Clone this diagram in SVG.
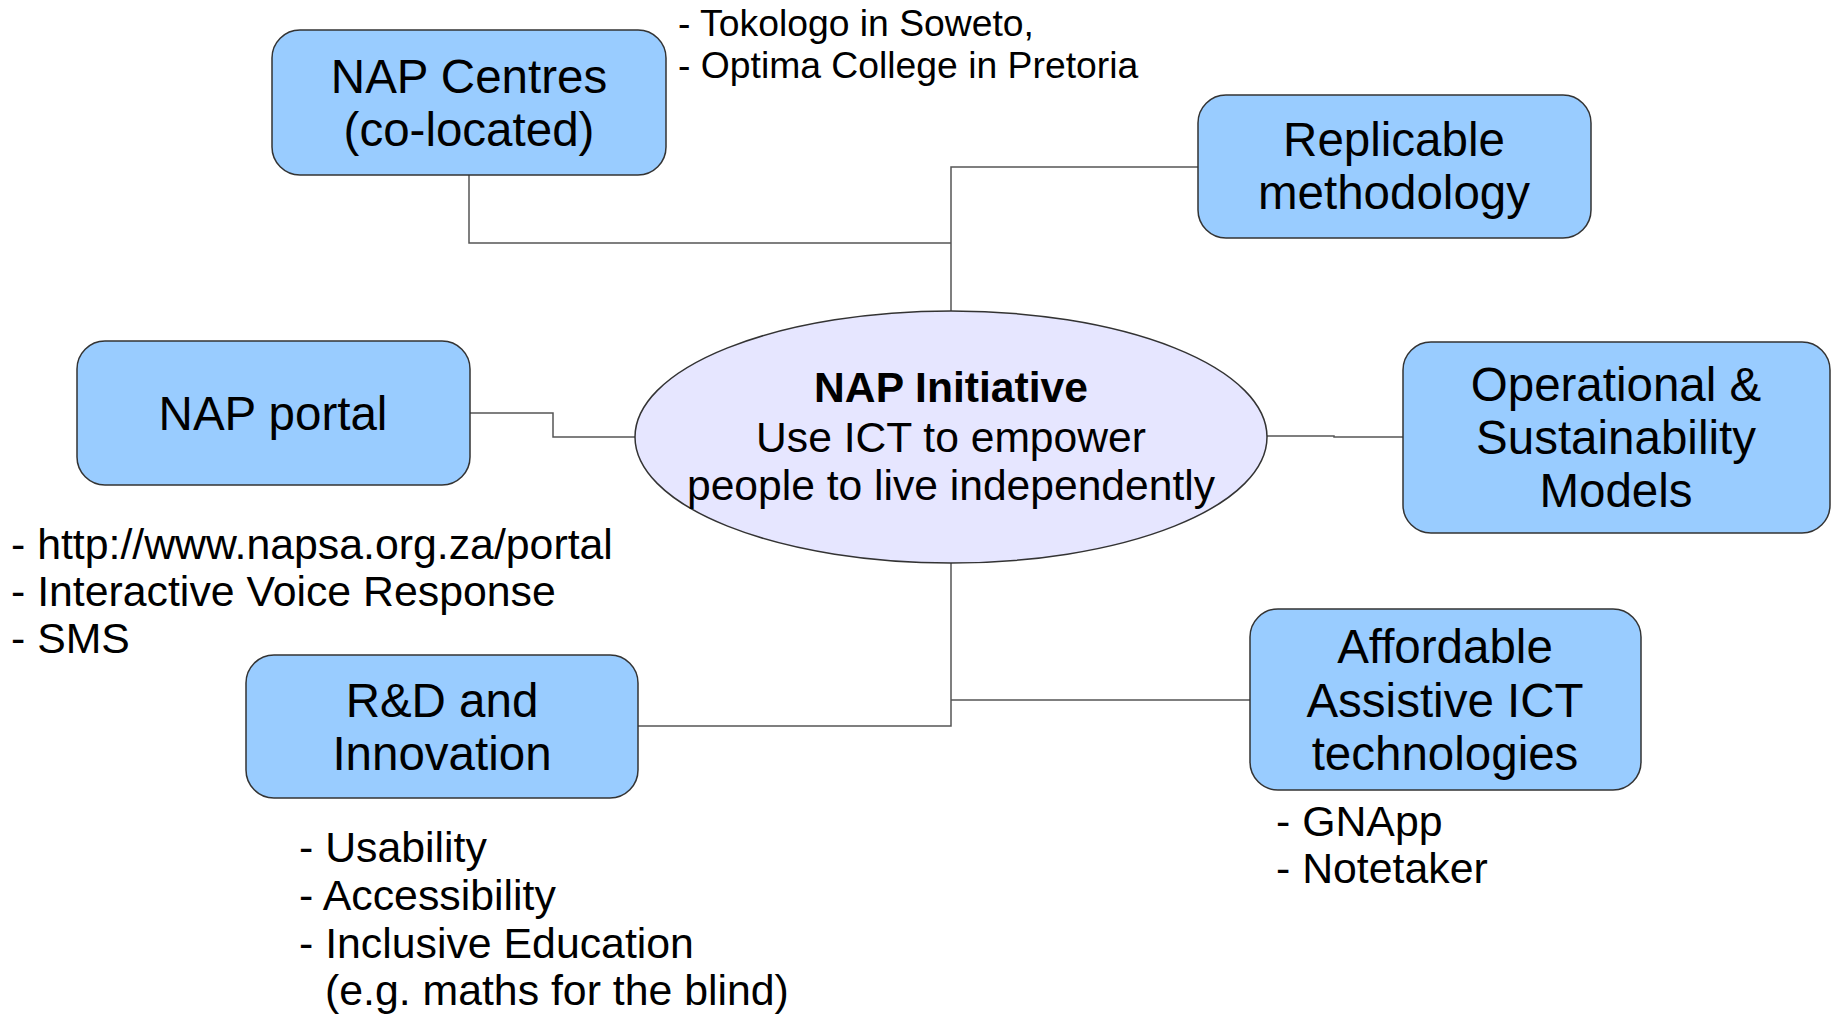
<svg xmlns="http://www.w3.org/2000/svg" width="1833" height="1014" viewBox="0 0 1833 1014">
<style>
.box{fill:#99ccff;stroke:#333;stroke-width:1.5}
.ell{fill:#e6e6ff;stroke:#333;stroke-width:1.5}
.conn{fill:none;stroke:#555;stroke-width:1.5}
text{font-family:"Liberation Sans",Arial,sans-serif;fill:#000}
.bt{font-size:47.5px;text-anchor:middle}
.et{font-size:42.6px;text-anchor:middle}
.note{font-size:42.8px}
.note2{font-size:37.3px}
</style>
<rect width="1833" height="1014" fill="#fff"/>
<g id="connectors">
<polyline class="conn" points="469,175 469,243 951,243"/>
<polyline class="conn" points="951,311 951,167 1198,167"/>
<polyline class="conn" points="470,413 553,413 553,437 635,437"/>
<polyline class="conn" points="1267,436 1334,436 1334,437 1403,437"/>
<polyline class="conn" points="951,562 951,726 638,726"/>
<polyline class="conn" points="951,700 1250,700"/>
</g>
<g id="center">
<ellipse class="ell" cx="951" cy="437" rx="316" ry="126"/>
<text class="et" x="951" y="402" font-weight="bold">NAP Initiative</text>
<text class="et" x="951" y="452">Use ICT to empower</text>
<text class="et" x="951" y="500">people to live independently</text>
</g>
<g id="nap-centres">
<rect class="box" x="272" y="30" width="394" height="145" rx="28"/>
<text class="bt" x="469" y="93">NAP Centres</text>
<text class="bt" x="469" y="146">(co-located)</text>
</g>
<g id="nap-centres-note">
<text class="note2" x="678" y="36">- Tokologo in Soweto,</text>
<text class="note2" x="678" y="78">- Optima College in Pretoria</text>
</g>
<g id="replicable">
<rect class="box" x="1198" y="95" width="393" height="143" rx="28"/>
<text class="bt" x="1394" y="156">Replicable</text>
<text class="bt" x="1394" y="209">methodology</text>
</g>
<g id="nap-portal">
<rect class="box" x="77" y="341" width="393" height="144" rx="28"/>
<text class="bt" x="273" y="430">NAP portal</text>
</g>
<g id="nap-portal-note">
<text class="note" x="11" y="559">- http://www.napsa.org.za/portal</text>
<text class="note" x="11" y="606">- Interactive Voice Response</text>
<text class="note" x="11" y="653">- SMS</text>
</g>
<g id="operational">
<rect class="box" x="1403" y="342" width="427" height="191" rx="28"/>
<text class="bt" x="1616" y="401">Operational &amp;</text>
<text class="bt" x="1616" y="454">Sustainability</text>
<text class="bt" x="1616" y="507">Models</text>
</g>
<g id="rnd">
<rect class="box" x="246" y="655" width="392" height="143" rx="28"/>
<text class="bt" x="442" y="717">R&amp;D and</text>
<text class="bt" x="442" y="770">Innovation</text>
</g>
<g id="rnd-note">
<text class="note" x="299" y="862">- Usability</text>
<text class="note" x="299" y="910">- Accessibility</text>
<text class="note" x="299" y="958">- Inclusive Education</text>
<text class="note" x="325" y="1005">(e.g. maths for the blind)</text>
</g>
<g id="affordable">
<rect class="box" x="1250" y="609" width="391" height="181" rx="28"/>
<text class="bt" x="1445" y="663">Affordable</text>
<text class="bt" x="1445" y="717">Assistive ICT</text>
<text class="bt" x="1445" y="770">technologies</text>
</g>
<g id="affordable-note">
<text class="note" x="1276" y="836">- GNApp</text>
<text class="note" x="1276" y="883">- Notetaker</text>
</g>
</svg>
